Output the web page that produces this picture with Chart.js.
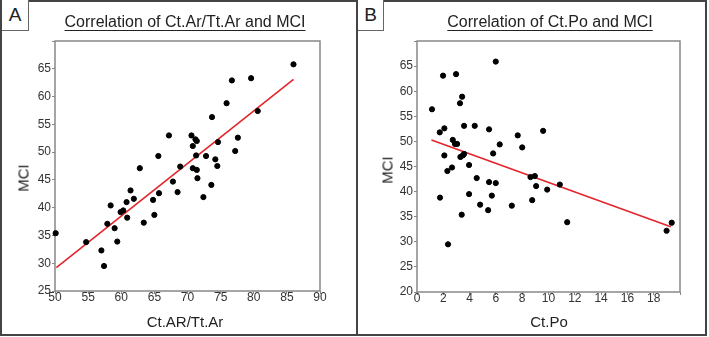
<!DOCTYPE html>
<html>
<head>
<meta charset="utf-8">
<script src="https://cdn.jsdelivr.net/npm/chart.js@4.4.1/dist/chart.umd.min.js"></script>
<style>
  html, body { margin: 0; padding: 0; background: #fff; }
  body { width: 709px; height: 337px; position: relative; overflow: hidden; font-family: "Liberation Sans", Arial, sans-serif; color: #222; }
  .panel { position: absolute; top: 0; height: 336px; box-sizing: border-box; border: 2px solid #444; }
  .tag { position: absolute; top: 0; box-sizing: border-box; height: 31px; border-right: 1.5px solid #666; border-bottom: 1.5px solid #666; font-size: 19px; text-align: center; line-height: 30px; background: #fff; z-index: 2; }
  .title { position: absolute; top: 13px; font-size: 16px; text-decoration: underline; text-underline-offset: 3px; white-space: nowrap; transform: translateX(-50%); z-index: 2; }
  .xtitle { position: absolute; top: 313px; font-size: 15px; white-space: nowrap; transform: translateX(-50%); z-index: 2; }
  .ytitle { position: absolute; font-size: 15px; white-space: nowrap; transform: translate(-50%, -50%) rotate(-90deg); z-index: 2; }
  canvas { position: absolute; top: 0; }
</style>
</head>
<body>
<div class="panel" style="left:0;width:358px"></div>
<div class="panel" style="left:356px;width:351px"></div>
<div class="tag" style="left:2px;width:27px">A</div>
<div class="tag" style="left:358px;width:26px">B</div>
<div class="title" style="left:185px">Correlation of Ct.Ar/Tt.Ar and MCI</div>
<div class="title" style="left:550px">Correlation of Ct.Po and MCI</div>
<div class="xtitle" style="left:185px">Ct.AR/Tt.Ar</div>
<div class="xtitle" style="left:549px">Ct.Po</div>
<div class="ytitle" style="left:23px;top:178px">MCI</div>
<div class="ytitle" style="left:387px;top:170px">MCI</div>
<canvas id="chartA" width="357" height="337" style="left:0"></canvas>
<canvas id="chartB" width="352" height="337" style="left:357px"></canvas>
<script>
// Panel A: cortical area ratio vs MCI
const ratioA = [50.1, 54.7, 57.0, 57.4, 57.9, 58.4, 59.0, 59.4, 59.9, 60.3, 60.8, 60.9, 61.4, 61.9, 62.8, 63.4,
  64.8, 65.0, 65.6, 65.7, 67.2, 67.8, 68.5, 68.9, 70.6, 70.8, 70.8, 71.2, 71.3, 71.4, 71.4, 71.5,
  72.4, 72.8, 73.6, 73.7, 74.2, 74.5, 74.6, 75.9, 76.7, 77.2, 77.6, 79.6, 80.6, 86.0];
const mciA = [35.4, 33.8, 32.3, 29.5, 37.1, 40.4, 36.3, 33.9, 39.2, 39.5, 41.0, 38.2, 43.1, 41.6, 47.1, 37.3,
  41.4, 38.7, 49.3, 42.6, 53.0, 44.7, 42.8, 47.4, 53.0, 51.1, 47.1, 52.3, 49.4, 52.0, 46.8, 45.3,
  41.9, 49.3, 44.1, 56.3, 48.7, 47.5, 51.8, 58.8, 62.9, 50.2, 52.6, 63.3, 57.4, 65.8];
const fitXA = [50.2, 86.0];
const fitYA = [29.2, 63.1];

// Panel B: cortical porosity vs MCI
const poroB = [1.14, 1.73, 1.75, 1.98, 2.08, 2.08, 2.31, 2.36, 2.66, 2.72, 2.89, 2.97, 3.05, 3.27, 3.30, 3.43,
  3.40, 3.48, 3.58, 3.58, 3.96, 3.96, 4.39, 4.54, 4.80, 5.41, 5.48, 5.48, 5.69, 5.79, 5.99, 5.99,
  6.29, 7.21, 7.66, 8.00, 8.63, 8.76, 8.96, 9.06, 9.59, 9.90, 10.86, 11.42, 18.98, 19.37];
const mciB = [56.4, 51.8, 38.8, 63.1, 52.6, 47.2, 44.1, 29.5, 44.8, 50.3, 49.5, 63.4, 49.5, 57.6, 46.9, 58.9,
  35.4, 47.2, 47.5, 53.1, 45.3, 39.5, 53.1, 42.7, 37.4, 36.3, 52.4, 41.9, 39.2, 47.6, 65.9, 41.7,
  49.4, 37.2, 51.2, 48.8, 42.9, 38.3, 43.1, 41.1, 52.1, 40.4, 41.4, 33.9, 32.2, 33.8];
const fitXB = [1.1, 19.3];
const fitYB = [50.3, 33.0];

const FONT = "'Liberation Sans', Arial, sans-serif";
const AXIS = '#888';

const toPoints = (xs, ys) => xs.map((x, i) => ({ x, y: ys[i] }));

const plotBox = {
  id: 'plotBox',
  beforeDatasetsDraw(chart) {
    const a = chart.chartArea, ctx = chart.ctx;
    ctx.save();
    ctx.strokeStyle = AXIS;
    ctx.lineWidth = 1.5;
    ctx.strokeRect(a.left, a.top, a.right - a.left, a.bottom - a.top);
    ctx.restore();
  },
};

function makeChart(id, xs, ys, fx, fy, opt) {
  const tickFont = { family: FONT, size: 12 };
  return new Chart(document.getElementById(id), {
    type: 'scatter',
    data: {
      datasets: [
        { data: toPoints(xs, ys), backgroundColor: '#000', borderColor: '#000', pointRadius: 2.6, pointHoverRadius: 2.6, clip: false },
        { data: toPoints(fx, fy), showLine: true, borderColor: '#e3242b', borderWidth: 1.6, pointRadius: 0, clip: false },
      ],
    },
    options: {
      responsive: false,
      animation: false,
      events: [],
      plugins: { legend: { display: false }, tooltip: { enabled: false } },
      layout: { padding: { top: 41, right: opt.padRight, left: 0, bottom: 0 } },
      scales: {
        x: {
          type: 'linear', min: opt.xMin, max: opt.xMax,
          afterFit: s => { s.height = opt.xHeight; },
          grid: { drawOnChartArea: false, drawTicks: true, tickLength: 3, color: AXIS },
          border: { display: false },
          ticks: { stepSize: opt.xStep, color: '#333', font: tickFont, padding: -4, maxRotation: 0, autoSkip: false,
            callback: v => (opt.xHide === v ? '' : v) },
        },
        y: {
          type: 'linear', min: opt.yMin, max: opt.yMax,
          afterFit: s => { s.width = opt.yWidth; },
          grid: { drawOnChartArea: false, drawTicks: true, tickLength: 3, color: AXIS },
          border: { display: false },
          ticks: { stepSize: 5, color: '#333', font: tickFont, padding: 1, autoSkip: false,
            callback: v => (v === opt.yMax ? '' : v) },
        },
      },
    },
    plugins: [plotBox],
  });
}

makeChart('chartA', ratioA, mciA, fitXA, fitYA,
  { xMin: 50, xMax: 90, xStep: 5, xHide: null, yMin: 25, yMax: 70, yWidth: 55, xHeight: 46, padRight: 37 });
makeChart('chartB', poroB, mciB, fitXB, fitYB,
  { xMin: 0, xMax: 20, xStep: 2, xHide: 20, yMin: 20, yMax: 70, yWidth: 60, xHeight: 45, padRight: 29 });
</script>
</body>
</html>
